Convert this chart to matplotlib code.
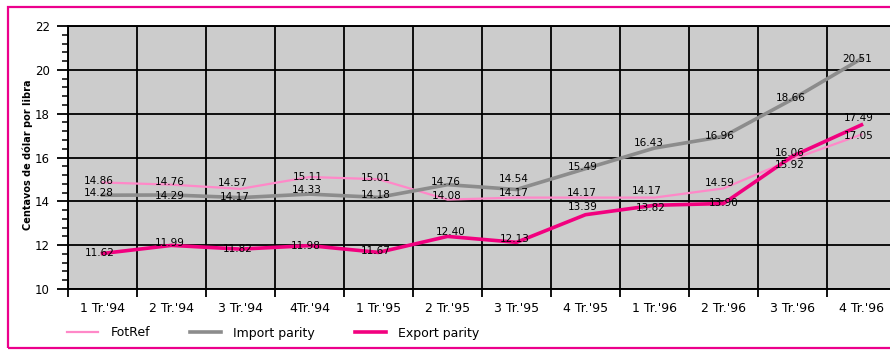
import numpy as np
import matplotlib
matplotlib.use("Agg")
import matplotlib.pyplot as plt
from matplotlib.patches import Rectangle

plt.rcParams['font.family'] = ['DejaVu Sans']

# quarterly prices, US cents per pound
quarters = ["1 Tr.'94", "2 Tr.'94", "3 Tr.'94", "4Tr.'94",
            "1 Tr.'95", "2 Tr.'95", "3 Tr.'95", "4 Tr.'95",
            "1 Tr.'96", "2 Tr.'96", "3 Tr.'96", "4 Tr.'96"]
fotref = [14.86, 14.76, 14.57, 15.11, 15.01, 14.08, 14.17, 14.17, 14.17, 14.59, 15.92, 17.05]
import_parity = [14.28, 14.29, 14.17, 14.33, 14.18, 14.76, 14.54, 15.49, 16.43, 16.96, 18.66, 20.51]
export_parity = [11.62, 11.99, 11.82, 11.98, 11.67, 12.40, 12.13, 13.39, 13.82, 13.90, 16.06, 17.49]

# label nudges in pixels (dx, dy) so the numbers sit clear of each other
fot_off = [(-4, 1), (-2, 3), (-8, 6), (-2, 0), (-3, 1), (-1, 4),
           (-3, 5), (-4, 5), (-8, 7), (-4, 5), (-3, -6), (-3, -2)]
imp_off = [(-4, 2), (-2, -1), (-6, 1), (-3, 4), (-3, 2), (-2, 3),
           (-3, 10), (-3, 2), (-6, 5), (-4, 0), (-2, 1), (-4, 0)]
exp_off = [(-3, 0), (-2, 2), (-3, 0), (-4, 0), (-3, 1), (3, 4),
           (-2, 3), (-3, 8), (-4, -3), (0, 1), (-3, 3), (-3, 7)]

W, H = 890, 350
fig = plt.figure(figsize=(W / 100, H / 100), dpi=100)
ax = fig.add_axes([68 / W, 61 / H, 828 / W, 263 / H])
ax.set_facecolor('#CCCCCC')

x = np.arange(len(quarters))
series = [
    ("FotRef", fotref, '#FF88C8', 1.6, fot_off),
    ("Import parity", import_parity, '#8C8C8C', 2.6, imp_off),
    ("Export parity", export_parity, '#F2007F', 2.6, exp_off),
]
for name, vals, col, lw, offs in series:
    ax.plot(x, vals, color=col, lw=lw, label=name, zorder=3)
    for xi, v, (dx, dy) in zip(x, vals, offs):
        ax.annotate(f"{v:.2f}", (xi, v), xytext=(dx, dy), textcoords='offset pixels',
                    ha='center', va='center', fontsize=7.5, color='black', zorder=4)

ax.set_xlim(-0.5, len(quarters) - 0.5)
ax.set_ylim(10, 22)

# gridlines on category boundaries, labels in the middle
ax.set_xticks(np.arange(-0.5, len(quarters), 1))
ax.set_xticklabels([])
ax.set_xticks(x, minor=True)
ax.set_xticklabels(quarters, minor=True, fontsize=9)
ax.tick_params(axis='x', which='major', length=6, width=1.3, direction='out', color='black')
ax.tick_params(axis='x', which='minor', length=0, pad=9)

ax.set_yticks(np.arange(10, 23, 2))
ax.set_yticks(np.arange(10, 22.01, 0.4), minor=True)
ax.tick_params(axis='y', which='major', length=8, width=1.3, labelsize=8.5, pad=5)
ax.tick_params(axis='y', which='minor', length=4, width=1.1)

ax.grid(True, which='major', color='black', lw=1.3, zorder=1)
ax.set_axisbelow(True)
for s in ax.spines.values():
    s.set_color('black')
    s.set_linewidth(1.4)

fig.text(28 / W, 1 - 155 / H, "Centavos de dólar por libra", rotation=90,
         ha='center', va='center', fontsize=7, fontweight='bold')

fig.legend(loc='center left', bbox_to_anchor=(67 / W, 17 / H), ncol=3, frameon=False,
           fontsize=9, handlelength=2.5, handletextpad=0.96, columnspacing=3.2,
           borderpad=0, borderaxespad=0)

# pink page frame
fig.add_artist(Rectangle((8 / W, 2 / H), 1.0, 341 / H, transform=fig.transFigure,
                         fill=False, edgecolor='#EC008C', lw=1.6, clip_on=False))

fig.savefig("out.png", dpi=100)
